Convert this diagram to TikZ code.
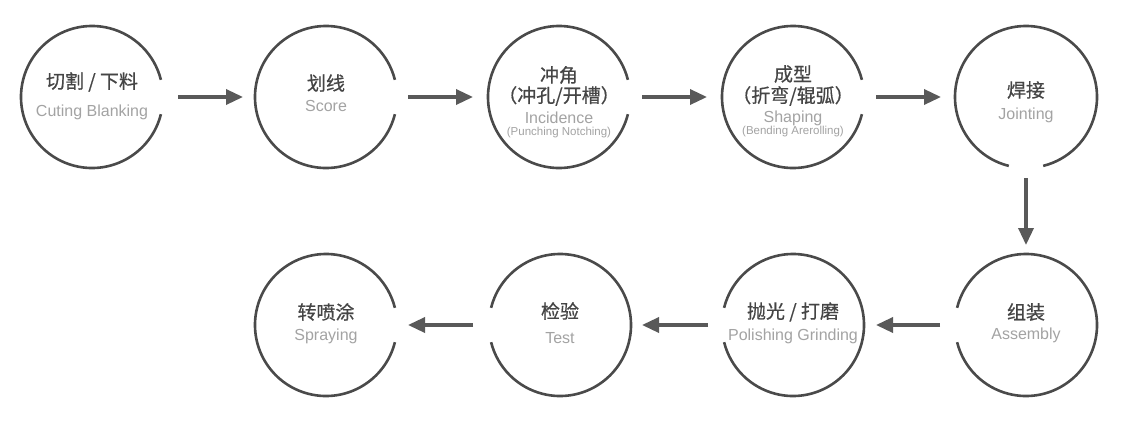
\documentclass[tikz,border=0pt]{standalone}
\usepackage{fontspec}
\setmainfont{Liberation Sans}
\newfontfamily\cjk[FakeBold=0.6]{Noto Sans CJK SC}
\usetikzlibrary{arrows.meta}
\definecolor{ringcol}{HTML}{4A4A4A}
\definecolor{arrcol}{HTML}{595959}
\definecolor{cncol}{HTML}{454545}
\definecolor{encol}{HTML}{A3A3A3}
\tikzset{
  stepnode/.style={circle,minimum size=142pt,inner sep=0pt,outer sep=0pt},
  ring/.style={draw=ringcol,line width=2.6pt},
  arr/.style={draw=arrcol,line width=3.4pt,-{Triangle[length=17pt,width=15pt]}},
  cn/.style={text=cncol,font=\cjk\fontsize{19}{22}\selectfont,inner sep=0pt},
  en/.style={text=encol,font=\fontsize{16}{19}\selectfont,inner sep=0pt},
  ensmall/.style={text=encol,font=\fontsize{11.5}{13}\selectfont,inner sep=0pt}
}
\begin{document}
\begin{tikzpicture}[x=1pt,y=-1pt]
\useasboundingbox[fill=white] (0,0) rectangle (1140,445);
% circles (invisible nodes)
\node[stepnode] (c1) at (92,97) {};
\node[stepnode] (c2) at (326,97) {};
\node[stepnode] (c3) at (559,97) {};
\node[stepnode] (c4) at (793,97) {};
\node[stepnode] (c5) at (1026,97) {};
\node[stepnode] (c6) at (1026,325) {};
\node[stepnode] (c7) at (793,325) {};
\node[stepnode] (c8) at (560,325) {};
\node[stepnode] (c9) at (326,325) {};
% rings with gaps
\draw[ring] (c1) ++(14:71) arc[start angle=14,end angle=346,radius=71];
\draw[ring] (c2) ++(14:71) arc[start angle=14,end angle=346,radius=71];
\draw[ring] (c3) ++(14:71) arc[start angle=14,end angle=346,radius=71];
\draw[ring] (c4) ++(14:71) arc[start angle=14,end angle=346,radius=71];
\draw[ring] (c5) ++(104:71) arc[start angle=104,end angle=436,radius=71];
\draw[ring] (c6) ++(194:71) arc[start angle=194,end angle=526,radius=71];
\draw[ring] (c7) ++(194:71) arc[start angle=194,end angle=526,radius=71];
\draw[ring] (c8) ++(194:71) arc[start angle=194,end angle=526,radius=71];
\draw[ring] (c9) ++(14:71) arc[start angle=14,end angle=346,radius=71];
% arrows
\draw[arr,shorten <=15pt,shorten >=12pt] (c1) -- (c2);
\draw[arr,shorten <=11pt,shorten >=15pt] (c2) -- (c3);
\draw[arr,shorten <=12pt,shorten >=15pt] (c3) -- (c4);
\draw[arr,shorten <=12pt,shorten >=14pt] (c4) -- (c5);
\draw[arr,shorten <=10pt,shorten >=9pt] (c5) -- (c6);
\draw[arr,shorten <=15pt,shorten >=12pt] (c6) -- (c7);
\draw[arr,shorten <=14pt,shorten >=11pt] (c7) -- (c8);
\draw[arr,shorten <=16pt,shorten >=11pt] (c8) -- (c9);
% texts
\node[cn] (t1a) at (92,82) {切割 / 下料};
\node[en] (t1b) at (92,112) {Cuting Blanking};
\node[cn] (t2a) at (326,83) {划线};
\node[en] (t2b) at (326,106) {Score};
\node[cn] (t3a) at (559,75) {冲角};
\node[cn] (t3b) at (559,96) {（冲孔/开槽）};
\node[en] (t3c) at (559,118) {Incidence};
\node[ensmall] (t3d) at (559,133) {(Punching Notching)};
\node[cn] (t4a) at (793,74) {成型};
\node[cn] (t4b) at (793,96) {（折弯/辊弧）};
\node[en] (t4c) at (793,118) {Shaping};
\node[ensmall] (t4d) at (793,132) {(Bending Arerolling)};
\node[cn] (t5a) at (1026,90) {焊接};
\node[en] (t5b) at (1026,115) {Jointing};
\node[cn] (t6a) at (1026,312) {组装};
\node[en] (t6b) at (1026,335) {Assembly};
\node[cn] (t7a) at (793,312) {抛光 / 打磨};
\node[en] (t7b) at (793,336) {Polishing Grinding};
\node[cn] (t8a) at (560,311) {检验};
\node[en] (t8b) at (560,338) {Test};
\node[cn] (t9a) at (326,312) {转喷涂};
\node[en] (t9b) at (326,336) {Spraying};
\end{tikzpicture}
\end{document}
